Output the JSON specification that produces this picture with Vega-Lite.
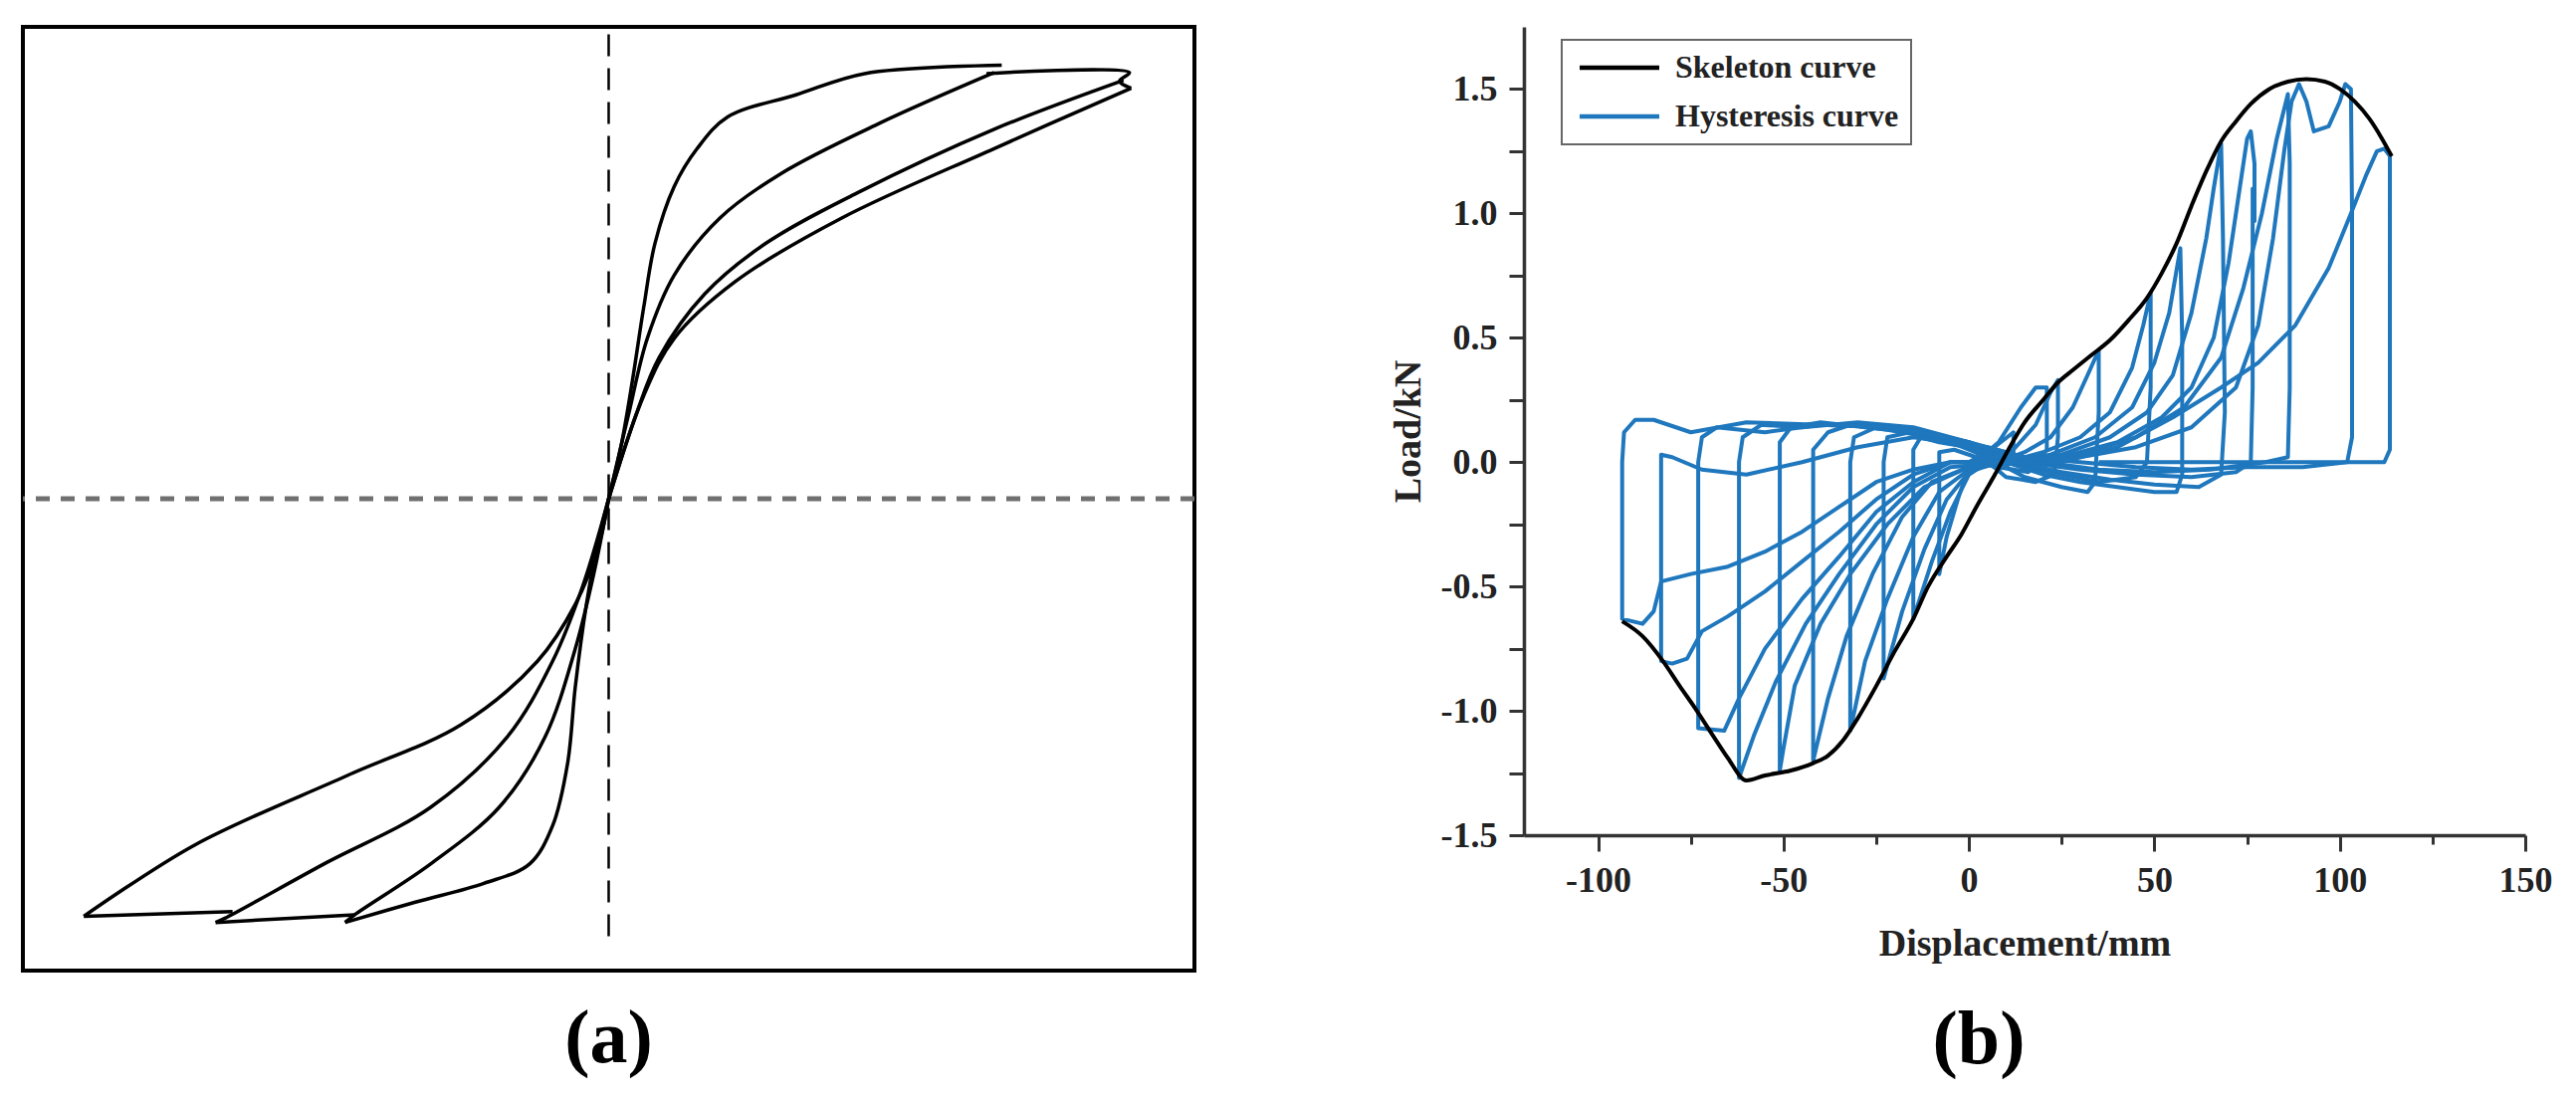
{
"$schema": "https://vega.github.io/schema/vega-lite/v6.json",
"padding": {"left": 18, "top": 25, "right": 0, "bottom": 0},
"background": "white",
"spacing": 331,
"bounds": "flush",
"resolve": {"scale": {"color": "independent"}, "legend": {"color": "independent"}},
"config": {"font": "Liberation Serif", "view": {"stroke": null}},
"hconcat": [
{
"width": 1177, "height": 948,
"view": {"stroke": "#000000", "strokeWidth": 4},
"title": {"text": "(a)", "orient": "bottom", "fontSize": 76, "font": "Liberation Serif", "fontWeight": "bold", "offset": 32, "color": "#000000"},
"layer": [
{"data": {"values": [{"y": 0}]},
 "mark": {"type": "rule", "color": "#707070", "strokeWidth": 5, "strokeDash": [14, 11]},
 "encoding": {"y": {"field": "y", "type": "quantitative", "scale": {"domain": [-1, 1], "nice": false, "zero": false}, "axis": null}}},
{"data": {"values": [{"x": 0, "y": 0.984, "y2": -0.949}]},
 "mark": {"type": "rule", "color": "#000000", "strokeWidth": 2.5, "strokeDash": [22, 12]},
 "encoding": {"x": {"field": "x", "type": "quantitative", "scale": {"domain": [-1, 1], "nice": false, "zero": false}, "axis": null},
  "y": {"field": "y", "type": "quantitative", "scale": {"domain": [-1, 1], "nice": false, "zero": false}, "axis": null},
  "y2": {"field": "y2"}}},
{"data": {"values": [
{"g":1,"o":1,"x":0,"y":0},{"g":1,"o":2,"x":0.021,"y":0.111},{"g":1,"o":3,"x":0.04,"y":0.246},{"g":1,"o":4,"x":0.06,"y":0.407},{"g":1,"o":5,"x":0.079,"y":0.541},{"g":1,"o":6,"x":0.112,"y":0.662},{"g":1,"o":7,"x":0.151,"y":0.742},{"g":1,"o":8,"x":0.203,"y":0.809},{"g":1,"o":9,"x":0.32,"y":0.856},{"g":1,"o":10,"x":0.437,"y":0.901},{"g":1,"o":11,"x":0.671,"y":0.919},
{"g":2,"o":1,"x":0.658,"y":0.903},{"g":2,"o":2,"x":0.463,"y":0.796},{"g":2,"o":3,"x":0.294,"y":0.689},{"g":2,"o":4,"x":0.19,"y":0.595},{"g":2,"o":5,"x":0.112,"y":0.474},{"g":2,"o":6,"x":0.066,"y":0.34},{"g":2,"o":7,"x":0.034,"y":0.179},{"g":2,"o":8,"x":0,"y":0},
{"g":3,"o":1,"x":0.645,"y":0.901},{"g":3,"o":2,"x":0.889,"y":0.903},{"g":3,"o":3,"x":0.872,"y":0.885},{"g":3,"o":4,"x":0.892,"y":0.87},
{"g":4,"o":1,"x":0.879,"y":0.887},{"g":4,"o":2,"x":0.658,"y":0.783},{"g":4,"o":3,"x":0.424,"y":0.648},{"g":4,"o":4,"x":0.268,"y":0.541},{"g":4,"o":5,"x":0.164,"y":0.434},{"g":4,"o":6,"x":0.086,"y":0.299},{"g":4,"o":7,"x":0.047,"y":0.179},{"g":4,"o":8,"x":0,"y":0},
{"g":5,"o":1,"x":0.892,"y":0.87},{"g":5,"o":2,"x":0.658,"y":0.742},{"g":5,"o":3,"x":0.398,"y":0.595},{"g":5,"o":4,"x":0.216,"y":0.46},{"g":5,"o":5,"x":0.112,"y":0.34},{"g":5,"o":6,"x":0.06,"y":0.219},{"g":5,"o":7,"x":0,"y":0},
{"g":6,"o":1,"x":0,"y":0},{"g":6,"o":2,"x":-0.018,"y":-0.09},{"g":6,"o":3,"x":-0.038,"y":-0.224},{"g":6,"o":4,"x":-0.057,"y":-0.399},{"g":6,"o":5,"x":-0.07,"y":-0.56},{"g":6,"o":6,"x":-0.096,"y":-0.694},{"g":6,"o":7,"x":-0.135,"y":-0.774},{"g":6,"o":8,"x":-0.213,"y":-0.815},{"g":6,"o":9,"x":-0.33,"y":-0.855},{"g":6,"o":10,"x":-0.45,"y":-0.898},
{"g":7,"o":1,"x":-0.45,"y":-0.898},{"g":7,"o":2,"x":-0.434,"y":-0.882},{"g":7,"o":3,"x":-0.304,"y":-0.774},{"g":7,"o":4,"x":-0.187,"y":-0.654},{"g":7,"o":5,"x":-0.109,"y":-0.506},{"g":7,"o":6,"x":-0.057,"y":-0.318},{"g":7,"o":7,"x":-0.025,"y":-0.157},{"g":7,"o":8,"x":0,"y":0},
{"g":8,"o":1,"x":-0.671,"y":-0.898},{"g":8,"o":2,"x":-0.434,"y":-0.882},
{"g":9,"o":1,"x":-0.671,"y":-0.898},{"g":9,"o":2,"x":-0.655,"y":-0.889},{"g":9,"o":3,"x":-0.486,"y":-0.774},{"g":9,"o":4,"x":-0.304,"y":-0.654},{"g":9,"o":5,"x":-0.174,"y":-0.506},{"g":9,"o":6,"x":-0.096,"y":-0.345},{"g":9,"o":7,"x":-0.044,"y":-0.184},{"g":9,"o":8,"x":0,"y":0},
{"g":10,"o":1,"x":-0.896,"y":-0.885},{"g":10,"o":2,"x":-0.642,"y":-0.875},
{"g":11,"o":1,"x":-0.896,"y":-0.885},{"g":11,"o":2,"x":-0.707,"y":-0.734},{"g":11,"o":3,"x":-0.447,"y":-0.587},{"g":11,"o":4,"x":-0.252,"y":-0.479},{"g":11,"o":5,"x":-0.122,"y":-0.345},{"g":11,"o":6,"x":-0.057,"y":-0.224},{"g":11,"o":7,"x":-0.018,"y":-0.103},{"g":11,"o":8,"x":0,"y":0}
]},
 "mark": {"type": "line", "color": "#000000", "strokeWidth": 3.5, "strokeJoin": "round", "interpolate": "catmull-rom"},
 "encoding": {"x": {"field": "x", "type": "quantitative", "scale": {"domain": [-1, 1], "nice": false, "zero": false}, "axis": null},
  "y": {"field": "y", "type": "quantitative", "scale": {"domain": [-1, 1], "nice": false, "zero": false}, "axis": null},
  "detail": {"field": "g", "type": "nominal"},
  "order": {"field": "o", "type": "quantitative"}}}
]
},
{
"width": 1006, "height": 812,
"title": {"text": "(b)", "orient": "bottom", "fontSize": 76, "font": "Liberation Serif", "fontWeight": "bold", "offset": 41, "dx": -46, "color": "#000000"},
"encoding": {
 "x": {"field": "d", "type": "quantitative", "scale": {"domain": [-120, 150], "nice": false, "zero": false},
  "axis": {"values": [-100,-75,-50,-25,0,25,50,75,100,125,150], "labelExpr": "datum.value % 50 === 0 ? '' + datum.value : ''", "labelFont": "Liberation Serif", "labelFontWeight": "bold", "labelFontSize": 36, "labelColor": "#222222", "labelPadding": 12, "labelFlush": false, "labelOverlap": false, "tickSize": {"condition": {"test": "datum.value % 50 !== 0", "value": 9}, "value": 16}, "tickWidth": 3, "tickColor": "#333333", "domainColor": "#333333", "domainWidth": 3.5, "grid": false, "title": "Displacement/mm", "titleFont": "Liberation Serif", "titleFontSize": 38, "titleFontWeight": "bold", "titleColor": "#222222", "titlePadding": 27}},
 "y": {"field": "f", "type": "quantitative", "scale": {"domain": [-1.5, 1.75], "nice": false, "zero": false},
  "axis": {"values": [-1.5,-1.25,-1,-0.75,-0.5,-0.25,0,0.25,0.5,0.75,1,1.25,1.5], "labelExpr": "abs(datum.value*2 - round(datum.value*2)) < 0.001 ? replace(format(datum.value, '.1f'), '\u2212', '-') : ''", "labelFont": "Liberation Serif", "labelFontWeight": "bold", "labelFontSize": 36, "labelColor": "#222222", "labelPadding": 12, "labelFlush": false, "labelOverlap": false, "tickSize": 15, "tickWidth": 3, "tickColor": "#333333", "domainColor": "#333333", "domainWidth": 3.5, "grid": false, "title": "Load/kN", "titleFont": "Liberation Serif", "titleFontSize": 38, "titleFontWeight": "bold", "titleColor": "#222222", "titlePadding": 13}}
},
"layer": [
{"data": {"values": [
{"c":1,"o":1,"d":0,"f":0},{"c":1,"o":2,"d":6,"f":0.05},{"c":1,"o":3,"d":12,"f":0.12},{"c":1,"o":4,"d":12,"f":0},{"c":1,"o":5,"d":8,"f":-0.03},{"c":1,"o":6,"d":2,"f":0.02},{"c":1,"o":7,"d":-4,"f":0.05},{"c":1,"o":8,"d":-8,"f":0.04},{"c":1,"o":9,"d":-8,"f":-0.45},{"c":1,"o":10,"d":-6,"f":-0.3},{"c":1,"o":11,"d":-3,"f":-0.15},{"c":1,"o":12,"d":0,"f":-0.02},
{"c":2,"o":1,"d":0,"f":-0.02},{"c":2,"o":2,"d":8,"f":0.08},{"c":2,"o":3,"d":14,"f":0.22},{"c":2,"o":4,"d":18,"f":0.3},{"c":2,"o":5,"d":21,"f":0.3},{"c":2,"o":6,"d":21,"f":0.05},{"c":2,"o":7,"d":16,"f":-0.04},{"c":2,"o":8,"d":8,"f":-0.02},{"c":2,"o":9,"d":0,"f":0.06},{"c":2,"o":10,"d":-8,"f":0.08},{"c":2,"o":11,"d":-13,"f":0.1},{"c":2,"o":12,"d":-15,"f":0.05},{"c":2,"o":13,"d":-15,"f":-0.63},{"c":2,"o":14,"d":-10,"f":-0.4},{"c":2,"o":15,"d":-5,"f":-0.2},{"c":2,"o":16,"d":0,"f":-0.05},{"c":2,"o":17,"d":5,"f":0},
{"c":3,"o":1,"d":5,"f":0},{"c":3,"o":2,"d":12,"f":0.05},{"c":3,"o":3,"d":18,"f":0.15},{"c":3,"o":4,"d":22,"f":0.28},{"c":3,"o":5,"d":24,"f":0.33},{"c":3,"o":6,"d":24,"f":0.1},{"c":3,"o":7,"d":23,"f":-0.05},{"c":3,"o":8,"d":18,"f":-0.08},{"c":3,"o":9,"d":10,"f":-0.06},{"c":3,"o":10,"d":2,"f":0.04},{"c":3,"o":11,"d":-8,"f":0.1},{"c":3,"o":12,"d":-16,"f":0.12},{"c":3,"o":13,"d":-22,"f":0.1},{"c":3,"o":14,"d":-23,"f":0},{"c":3,"o":15,"d":-23,"f":-0.87},{"c":3,"o":16,"d":-18,"f":-0.6},{"c":3,"o":17,"d":-12,"f":-0.35},{"c":3,"o":18,"d":-6,"f":-0.15},{"c":3,"o":19,"d":0,"f":-0.04},{"c":3,"o":20,"d":8,"f":0},
{"c":4,"o":1,"d":8,"f":0},{"c":4,"o":2,"d":15,"f":0.04},{"c":4,"o":3,"d":22,"f":0.1},{"c":4,"o":4,"d":28,"f":0.22},{"c":4,"o":5,"d":32,"f":0.35},{"c":4,"o":6,"d":35,"f":0.45},{"c":4,"o":7,"d":35,"f":0.2},{"c":4,"o":8,"d":34,"f":-0.08},{"c":4,"o":9,"d":32,"f":-0.12},{"c":4,"o":10,"d":25,"f":-0.1},{"c":4,"o":11,"d":15,"f":-0.06},{"c":4,"o":12,"d":5,"f":0.02},{"c":4,"o":13,"d":-5,"f":0.08},{"c":4,"o":14,"d":-15,"f":0.12},{"c":4,"o":15,"d":-25,"f":0.14},{"c":4,"o":16,"d":-31,"f":0.1},{"c":4,"o":17,"d":-32,"f":0},{"c":4,"o":18,"d":-32,"f":-1.08},{"c":4,"o":19,"d":-28,"f":-0.8},{"c":4,"o":20,"d":-22,"f":-0.55},{"c":4,"o":21,"d":-15,"f":-0.3},{"c":4,"o":22,"d":-8,"f":-0.12},{"c":4,"o":23,"d":0,"f":-0.03},{"c":4,"o":24,"d":10,"f":0},
{"c":5,"o":1,"d":10,"f":0},{"c":5,"o":2,"d":20,"f":0.04},{"c":5,"o":3,"d":30,"f":0.1},{"c":5,"o":4,"d":38,"f":0.2},{"c":5,"o":5,"d":44,"f":0.38},{"c":5,"o":6,"d":47,"f":0.55},{"c":5,"o":7,"d":49,"f":0.68},{"c":5,"o":8,"d":49,"f":0.3},{"c":5,"o":9,"d":48,"f":0},{"c":5,"o":10,"d":45,"f":-0.06},{"c":5,"o":11,"d":35,"f":-0.08},{"c":5,"o":12,"d":25,"f":-0.05},{"c":5,"o":13,"d":15,"f":-0.02},{"c":5,"o":14,"d":5,"f":0.04},{"c":5,"o":15,"d":-10,"f":0.1},{"c":5,"o":16,"d":-22,"f":0.13},{"c":5,"o":17,"d":-32,"f":0.15},{"c":5,"o":18,"d":-38,"f":0.12},{"c":5,"o":19,"d":-42,"f":0.05},{"c":5,"o":20,"d":-42,"f":-1.2},{"c":5,"o":21,"d":-38,"f":-0.95},{"c":5,"o":22,"d":-33,"f":-0.7},{"c":5,"o":23,"d":-26,"f":-0.45},{"c":5,"o":24,"d":-18,"f":-0.22},{"c":5,"o":25,"d":-10,"f":-0.08},{"c":5,"o":26,"d":0,"f":-0.02},{"c":5,"o":27,"d":10,"f":0},
{"c":6,"o":1,"d":10,"f":0},{"c":6,"o":2,"d":22,"f":0.03},{"c":6,"o":3,"d":34,"f":0.1},{"c":6,"o":4,"d":44,"f":0.22},{"c":6,"o":5,"d":50,"f":0.4},{"c":6,"o":6,"d":54,"f":0.6},{"c":6,"o":7,"d":57,"f":0.86},{"c":6,"o":8,"d":57.5,"f":0.5},{"c":6,"o":9,"d":57.5,"f":-0.05},{"c":6,"o":10,"d":56,"f":-0.12},{"c":6,"o":11,"d":50,"f":-0.12},{"c":6,"o":12,"d":40,"f":-0.1},{"c":6,"o":13,"d":30,"f":-0.08},{"c":6,"o":14,"d":20,"f":-0.05},{"c":6,"o":15,"d":10,"f":0},{"c":6,"o":16,"d":0,"f":0.06},{"c":6,"o":17,"d":-15,"f":0.12},{"c":6,"o":18,"d":-28,"f":0.14},{"c":6,"o":19,"d":-40,"f":0.16},{"c":6,"o":20,"d":-48,"f":0.14},{"c":6,"o":21,"d":-51,"f":0.08},{"c":6,"o":22,"d":-51,"f":-1.24},{"c":6,"o":23,"d":-50,"f":-1.15},{"c":6,"o":24,"d":-47,"f":-0.9},{"c":6,"o":25,"d":-40,"f":-0.65},{"c":6,"o":26,"d":-32,"f":-0.45},{"c":6,"o":27,"d":-22,"f":-0.25},{"c":6,"o":28,"d":-12,"f":-0.1},{"c":6,"o":29,"d":0,"f":-0.02},{"c":6,"o":30,"d":12,"f":0},
{"c":7,"o":1,"d":12,"f":0},{"c":7,"o":2,"d":25,"f":0.03},{"c":7,"o":3,"d":38,"f":0.1},{"c":7,"o":4,"d":48,"f":0.2},{"c":7,"o":5,"d":55,"f":0.35},{"c":7,"o":6,"d":60,"f":0.6},{"c":7,"o":7,"d":64,"f":0.9},{"c":7,"o":8,"d":66,"f":1.1},{"c":7,"o":9,"d":68,"f":1.28},{"c":7,"o":10,"d":68.5,"f":0.9},{"c":7,"o":11,"d":69,"f":0.2},{"c":7,"o":12,"d":68,"f":-0.05},{"c":7,"o":13,"d":62,"f":-0.1},{"c":7,"o":14,"d":50,"f":-0.09},{"c":7,"o":15,"d":38,"f":-0.07},{"c":7,"o":16,"d":25,"f":-0.04},{"c":7,"o":17,"d":12,"f":0},{"c":7,"o":18,"d":0,"f":0.08},{"c":7,"o":19,"d":-15,"f":0.14},{"c":7,"o":20,"d":-30,"f":0.16},{"c":7,"o":21,"d":-45,"f":0.14},{"c":7,"o":22,"d":-56,"f":0.15},{"c":7,"o":23,"d":-61,"f":0.1},{"c":7,"o":24,"d":-62,"f":0},{"c":7,"o":25,"d":-62,"f":-1.27},{"c":7,"o":26,"d":-58,"f":-1.1},{"c":7,"o":27,"d":-52,"f":-0.88},{"c":7,"o":28,"d":-44,"f":-0.65},{"c":7,"o":29,"d":-35,"f":-0.45},{"c":7,"o":30,"d":-25,"f":-0.25},{"c":7,"o":31,"d":-15,"f":-0.1},{"c":7,"o":32,"d":-5,"f":-0.02},{"c":7,"o":33,"d":12,"f":0},
{"c":8,"o":1,"d":12,"f":0},{"c":8,"o":2,"d":25,"f":0.02},{"c":8,"o":3,"d":40,"f":0.08},{"c":8,"o":4,"d":52,"f":0.18},{"c":8,"o":5,"d":60,"f":0.3},{"c":8,"o":6,"d":66,"f":0.5},{"c":8,"o":7,"d":70,"f":0.8},{"c":8,"o":8,"d":73,"f":1.1},{"c":8,"o":9,"d":75,"f":1.3},{"c":8,"o":10,"d":76,"f":1.33},{"c":8,"o":11,"d":77,"f":1.2},{"c":8,"o":12,"d":77,"f":0.97},{"c":8,"o":13,"d":76.5,"f":1.1},{"c":8,"o":14,"d":76.5,"f":0.3},{"c":8,"o":15,"d":76,"f":0},{"c":8,"o":16,"d":72,"f":-0.04},{"c":8,"o":17,"d":60,"f":-0.06},{"c":8,"o":18,"d":45,"f":-0.05},{"c":8,"o":19,"d":30,"f":-0.03},{"c":8,"o":20,"d":15,"f":0},{"c":8,"o":21,"d":0,"f":0.08},{"c":8,"o":22,"d":-20,"f":0.14},{"c":8,"o":23,"d":-40,"f":0.15},{"c":8,"o":24,"d":-55,"f":0.12},{"c":8,"o":25,"d":-68,"f":0.14},{"c":8,"o":26,"d":-72,"f":0.1},{"c":8,"o":27,"d":-73,"f":0},{"c":8,"o":28,"d":-73,"f":-1.07},{"c":8,"o":29,"d":-66,"f":-1.08},{"c":8,"o":30,"d":-62,"f":-0.95},{"c":8,"o":31,"d":-55,"f":-0.75},{"c":8,"o":32,"d":-45,"f":-0.55},{"c":8,"o":33,"d":-35,"f":-0.38},{"c":8,"o":34,"d":-25,"f":-0.2},{"c":8,"o":35,"d":-15,"f":-0.08},{"c":8,"o":36,"d":-5,"f":0},{"c":8,"o":37,"d":12,"f":0},
{"c":9,"o":1,"d":12,"f":0},{"c":9,"o":2,"d":30,"f":0.03},{"c":9,"o":3,"d":45,"f":0.1},{"c":9,"o":4,"d":58,"f":0.22},{"c":9,"o":5,"d":68,"f":0.42},{"c":9,"o":6,"d":74,"f":0.7},{"c":9,"o":7,"d":79,"f":1},{"c":9,"o":8,"d":83,"f":1.3},{"c":9,"o":9,"d":86,"f":1.48},{"c":9,"o":10,"d":86.5,"f":1.2},{"c":9,"o":11,"d":86.5,"f":0.3},{"c":9,"o":12,"d":86,"f":0.02},{"c":9,"o":13,"d":80,"f":0},{"c":9,"o":14,"d":65,"f":-0.03},{"c":9,"o":15,"d":50,"f":-0.04},{"c":9,"o":16,"d":35,"f":-0.03},{"c":9,"o":17,"d":20,"f":0},{"c":9,"o":18,"d":5,"f":0.06},{"c":9,"o":19,"d":-15,"f":0.1},{"c":9,"o":20,"d":-30,"f":0.06},{"c":9,"o":21,"d":-45,"f":0},{"c":9,"o":22,"d":-60,"f":-0.05},{"c":9,"o":23,"d":-72,"f":-0.03},{"c":9,"o":24,"d":-80,"f":0.02},{"c":9,"o":25,"d":-83,"f":0.03},{"c":9,"o":26,"d":-83,"f":-0.8},{"c":9,"o":27,"d":-80,"f":-0.81},{"c":9,"o":28,"d":-76,"f":-0.79},{"c":9,"o":29,"d":-72,"f":-0.68},{"c":9,"o":30,"d":-65,"f":-0.62},{"c":9,"o":31,"d":-55,"f":-0.52},{"c":9,"o":32,"d":-45,"f":-0.4},{"c":9,"o":33,"d":-35,"f":-0.28},{"c":9,"o":34,"d":-25,"f":-0.15},{"c":9,"o":35,"d":-15,"f":-0.05},{"c":9,"o":36,"d":-5,"f":0},{"c":9,"o":37,"d":12,"f":0},
{"c":10,"o":1,"d":12,"f":0},{"c":10,"o":2,"d":30,"f":0.02},{"c":10,"o":3,"d":45,"f":0.06},{"c":10,"o":4,"d":60,"f":0.14},{"c":10,"o":5,"d":72,"f":0.3},{"c":10,"o":6,"d":78,"f":0.55},{"c":10,"o":7,"d":82,"f":0.9},{"c":10,"o":8,"d":85,"f":1.25},{"c":10,"o":9,"d":87,"f":1.45},{"c":10,"o":10,"d":89,"f":1.52},{"c":10,"o":11,"d":91,"f":1.45},{"c":10,"o":12,"d":93,"f":1.33},{"c":10,"o":13,"d":97,"f":1.35},{"c":10,"o":14,"d":100,"f":1.45},{"c":10,"o":15,"d":101.5,"f":1.52},{"c":10,"o":16,"d":103,"f":1.5},{"c":10,"o":17,"d":103.3,"f":1},{"c":10,"o":18,"d":103.3,"f":0.1},{"c":10,"o":19,"d":102,"f":0},{"c":10,"o":20,"d":90,"f":-0.02},{"c":10,"o":21,"d":75,"f":-0.02},{"c":10,"o":22,"d":60,"f":-0.03},{"c":10,"o":23,"d":45,"f":-0.02},{"c":10,"o":24,"d":30,"f":0},{"c":10,"o":25,"d":15,"f":0.02},{"c":10,"o":26,"d":0,"f":0.08},{"c":10,"o":27,"d":-20,"f":0.14},{"c":10,"o":28,"d":-40,"f":0.15},{"c":10,"o":29,"d":-60,"f":0.16},{"c":10,"o":30,"d":-75,"f":0.12},{"c":10,"o":31,"d":-85,"f":0.17},{"c":10,"o":32,"d":-90,"f":0.17},{"c":10,"o":33,"d":-93,"f":0.12},{"c":10,"o":34,"d":-93.5,"f":0},{"c":10,"o":35,"d":-93.5,"f":-0.63},{"c":10,"o":36,"d":-88,"f":-0.65},{"c":10,"o":37,"d":-85,"f":-0.6},{"c":10,"o":38,"d":-83,"f":-0.48},{"c":10,"o":39,"d":-75,"f":-0.45},{"c":10,"o":40,"d":-65,"f":-0.42},{"c":10,"o":41,"d":-55,"f":-0.36},{"c":10,"o":42,"d":-45,"f":-0.28},{"c":10,"o":43,"d":-35,"f":-0.18},{"c":10,"o":44,"d":-25,"f":-0.08},{"c":10,"o":45,"d":-15,"f":-0.03},{"c":10,"o":46,"d":-5,"f":0},{"c":10,"o":47,"d":10,"f":0},
{"c":11,"o":1,"d":10,"f":0},{"c":11,"o":2,"d":25,"f":0},{"c":11,"o":3,"d":40,"f":0.06},{"c":11,"o":4,"d":55,"f":0.18},{"c":11,"o":5,"d":68,"f":0.3},{"c":11,"o":6,"d":78,"f":0.4},{"c":11,"o":7,"d":88,"f":0.55},{"c":11,"o":8,"d":97,"f":0.78},{"c":11,"o":9,"d":103,"f":1},{"c":11,"o":10,"d":107,"f":1.15},{"c":11,"o":11,"d":110,"f":1.25},{"c":11,"o":12,"d":112,"f":1.26},{"c":11,"o":13,"d":113.5,"f":1.23},{"c":11,"o":14,"d":113.5,"f":0.8},{"c":11,"o":15,"d":113.5,"f":0.05},{"c":11,"o":16,"d":112,"f":0},{"c":11,"o":17,"d":90,"f":0},{"c":11,"o":18,"d":70,"f":0},{"c":11,"o":19,"d":50,"f":0},{"c":11,"o":20,"d":35,"f":0}
]},
 "mark": {"type": "line", "strokeWidth": 4, "strokeJoin": "round"},
 "encoding": {
  "detail": {"field": "c", "type": "nominal"},
  "order": {"field": "o", "type": "quantitative"},
  "color": {"datum": "Hysteresis curve", "type": "nominal",
   "scale": {"domain": ["Skeleton curve", "Hysteresis curve"], "range": ["#000000", "#1f77bd"]},
   "legend": {"title": null, "orient": "none", "legendX": 38, "legendY": 13, "strokeColor": "#666666", "fillColor": "white", "padding": 12, "symbolType": "M-1,0H7", "symbolSize": 400, "symbolStrokeWidth": 4.5, "labelFont": "Liberation Serif", "labelFontWeight": "bold", "labelFontSize": 32, "labelColor": "#222222", "labelOffset": 70, "labelLimit": 400, "rowPadding": 17,
    "encode": {"legend": {"update": {"strokeWidth": {"value": 2}}}}}}}},
{"data": {"values": [
{"d":-93.5,"f":-0.64},{"d":-88,"f":-0.7},{"d":-82.5,"f":-0.8},{"d":-78,"f":-0.9},{"d":-73.8,"f":-0.99},{"d":-69,"f":-1.1},{"d":-65,"f":-1.19},{"d":-60,"f":-1.28},{"d":-55,"f":-1.26},{"d":-48,"f":-1.24},{"d":-42,"f":-1.21},{"d":-38,"f":-1.18},{"d":-34,"f":-1.12},{"d":-30,"f":-1.03},{"d":-25,"f":-0.9},{"d":-20,"f":-0.76},{"d":-15,"f":-0.63},{"d":-11,"f":-0.5},{"d":-6,"f":-0.38},{"d":-2,"f":-0.29},{"d":2,"f":-0.18},{"d":7,"f":-0.05},{"d":11,"f":0.06},{"d":15,"f":0.16},{"d":20,"f":0.25},{"d":24,"f":0.32},{"d":28,"f":0.37},{"d":33,"f":0.43},{"d":38,"f":0.49},{"d":43,"f":0.57},{"d":48,"f":0.66},{"d":52,"f":0.76},{"d":56,"f":0.88},{"d":60,"f":1.03},{"d":64,"f":1.17},{"d":68,"f":1.29},{"d":72,"f":1.37},{"d":76,"f":1.44},{"d":81,"f":1.5},{"d":86,"f":1.53},{"d":91,"f":1.54},{"d":96,"f":1.53},{"d":100,"f":1.5},{"d":104,"f":1.45},{"d":108,"f":1.38},{"d":111,"f":1.31},{"d":114,"f":1.23}
]},
 "mark": {"type": "line", "strokeWidth": 4, "strokeJoin": "round", "interpolate": "monotone"},
 "encoding": {"color": {"datum": "Skeleton curve", "type": "nominal"}}}
]
}
]
}
